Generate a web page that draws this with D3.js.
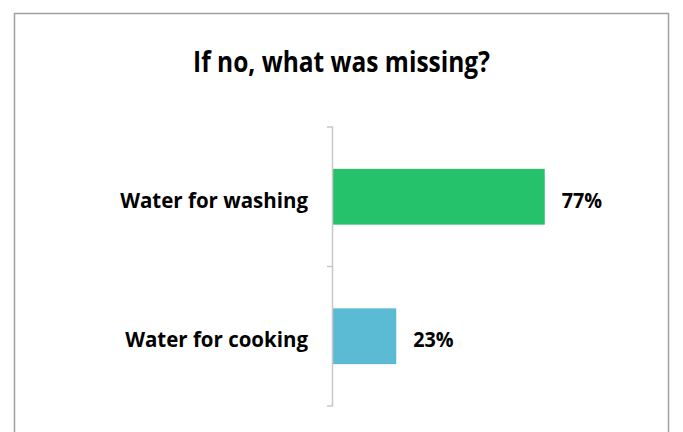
<!DOCTYPE html>
<meta charset="utf-8">
<style>
body { margin: 0; background: #fff; }
text { font-family: "Open Sans", sans-serif; font-weight: bold; fill: #000; }
</style>
<body>
<script src="https://d3js.org/d3.v7.min.js"></script>
<script>

// data
var categories = ["Water for washing", "Water for cooking"];
var values = [77, 23];
var colors = ["#26c26b", "#5bbad4"];
var title = "If no, what was missing?";

var width = 683, height = 432;

var svg = d3.select("body").append("svg")
    .attr("width", width)
    .attr("height", height);

// squeeze text horizontally, the original font is narrower
function condense(sel, k) {
  sel.each(function() {
    var w = this.getComputedTextLength();
    d3.select(this).attr("textLength", w * k).attr("lengthAdjust", "spacingAndGlyphs");
  });
}

// outer frame (bottom edge runs past the picture)
svg.append("rect")
    .attr("x", 14.5).attr("y", 13.5)
    .attr("width", 654).attr("height", 440)
    .attr("fill", "#fff")
    .attr("stroke", "#a0a0a0")
    .attr("stroke-width", 1.5);

svg.append("text")
    .attr("x", 341.5).attr("y", 72)
    .attr("text-anchor", "middle")
    .style("font-size", "28px")
    .text(title)
    .call(condense, 0.875);

// scales
var x = d3.scaleLinear().domain([0, 100]).range([333, 608]);
var y = d3.scaleBand().domain(categories).range([127, 406])
    .paddingInner(0.6).paddingOuter(0.3);

// bars
svg.selectAll(".bar")
    .data(values)
  .enter().append("rect")
    .attr("class", "bar")
    .attr("x", x(0))
    .attr("y", function(d, i) { return y(categories[i]); })
    .attr("width", function(d) { return x(d) - x(0); })
    .attr("height", y.bandwidth())
    .attr("fill", function(d, i) { return colors[i]; });

// value labels
svg.selectAll(".val")
    .data(values)
  .enter().append("text")
    .attr("class", "val")
    .attr("x", function(d) { return x(d) + 17; })
    .attr("y", function(d, i) { return y(categories[i]) + y.bandwidth() / 2 + 11; })
    .style("font-size", "21px")
    .text(function(d) { return d + "%"; })
    .call(condense, 0.94);

// category axis with ticks between bands
var bounds = [127, 127 + y.step(), 406];
svg.append("line")
    .attr("x1", 332.5).attr("x2", 332.5)
    .attr("y1", 127).attr("y2", 406)
    .attr("stroke", "#c8c8c8").attr("stroke-width", 1.5);
svg.selectAll(".tick")
    .data(bounds)
  .enter().append("line")
    .attr("class", "tick")
    .attr("x1", 327).attr("x2", 333)
    .attr("y1", function(d) { return d; })
    .attr("y2", function(d) { return d; })
    .attr("stroke", "#c8c8c8").attr("stroke-width", 1.5);

svg.selectAll(".cat")
    .data(categories)
  .enter().append("text")
    .attr("class", "cat")
    .attr("x", 308)
    .attr("y", function(d) { return y(d) + y.bandwidth() / 2 + 11; })
    .attr("text-anchor", "end")
    .style("font-size", "21px")
    .text(function(d) { return d; })
    .call(condense, 0.975);

</script>
</body>
